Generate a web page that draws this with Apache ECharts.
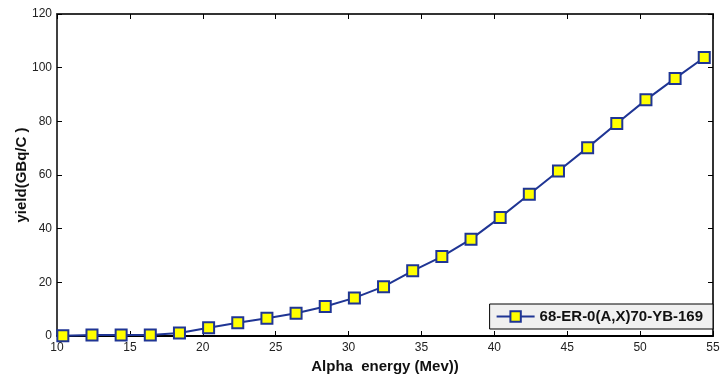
<!DOCTYPE html>
<html>
<head>
<meta charset="utf-8">
<script src="https://cdn.jsdelivr.net/npm/echarts@6/dist/echarts.min.js"></script>
<style>
  html, body { margin: 0; padding: 0; background: #fff; }
  #chart { width: 721px; height: 374px; }
</style>
</head>
<body>
<div id="chart"></div>
<script>
// alpha energy (Mev) and yield (GBq/C)
const energy = [10.4, 12.4, 14.4, 16.4, 18.4, 20.4, 22.4, 24.4, 26.4, 28.4, 30.4, 32.4,
  34.4, 36.4, 38.4, 40.4, 42.4, 44.4, 46.4, 48.4, 50.4, 52.4, 54.4];
const yieldVals = [0.1, 0.4, 0.4, 0.4, 1.1, 3.1, 4.9, 6.6, 8.5, 11, 14.2, 18.4,
  24.3, 29.6, 36.1, 44.2, 52.8, 61.5, 70.2, 79.2, 88, 96, 103.8];
const seriesName = "68-ER-0(A,X)70-YB-169";

const chart = echarts.init(document.getElementById("chart"));
const font = "Liberation Sans, Arial, sans-serif";

const boxAxis = {
  axisLine: { show: true, onZero: false, lineStyle: { color: "#333", width: 2 } },
  axisTick: { show: true, inside: true, length: 5, lineStyle: { color: "#000" } },
  axisLabel: { show: false },
  splitLine: { show: false },
};

chart.setOption({
  animation: false,
  grid: { left: 57, right: 8, top: 14, bottom: 38, outerBoundsMode: "none", containLabel: false },
  xAxis: [
    {
      type: "value", min: 10, max: 55, interval: 5,
      name: "Alpha  energy (Mev))", nameLocation: "middle", nameGap: 22,
      nameTextStyle: { fontFamily: font, fontWeight: "bold", fontSize: 15, color: "#111" },
      axisLine: { show: true, onZero: false, lineStyle: { color: "#000", width: 2 } },
      axisTick: { inside: true, length: 5, lineStyle: { color: "#000" } },
      axisLabel: { fontFamily: font, fontSize: 12, color: "#222", margin: 6 },
      splitLine: { show: false },
    },
    Object.assign({ type: "value", min: 10, max: 55, interval: 5, position: "top" }, boxAxis),
  ],
  yAxis: [
    {
      type: "value", min: 0, max: 120, interval: 20,
      name: "yield(GBq/C )", nameLocation: "middle", nameGap: 28, nameMoveOverlap: false,
      nameTextStyle: { fontFamily: font, fontWeight: "bold", fontSize: 15, color: "#111" },
      axisLine: { show: true, lineStyle: { color: "#000", width: 1.5 } },
      axisTick: { inside: true, length: 5, lineStyle: { color: "#000" } },
      axisLabel: { fontFamily: font, fontSize: 12, color: "#222", margin: 5 },
      splitLine: { show: false },
    },
    Object.assign({ type: "value", min: 0, max: 120, interval: 20, position: "right" }, boxAxis),
  ],
  legend: {
    right: 8, bottom: 45,
    backgroundColor: "#f0f0f0",
    borderColor: "#000", borderWidth: 1, borderRadius: 0,
    padding: [5, 10, 5, 6],
    itemWidth: 38, itemHeight: 13,
    textStyle: { fontFamily: font, fontWeight: "bold", fontSize: 15, color: "#111" },
    data: [{ name: seriesName }],
  },
  series: [
    {
      name: seriesName,
      type: "line",
      data: energy.map((e, i) => [e, yieldVals[i]]),
      symbol: "rect", symbolSize: 11,
      lineStyle: { color: "#1f3594", width: 2 },
      itemStyle: { color: "#ffff00", borderColor: "#1f3594", borderWidth: 2 },
      z: 5,
    },
  ],
});
</script>
</body>
</html>
